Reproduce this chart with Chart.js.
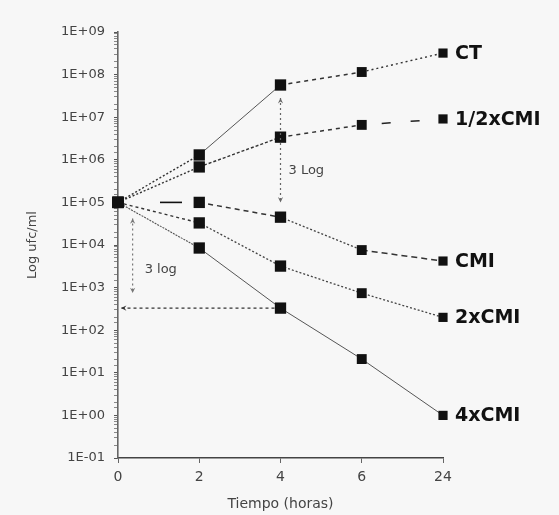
<!DOCTYPE html>
<html>
<head>
<meta charset="utf-8">
<script src="https://cdn.jsdelivr.net/npm/chart.js@4.4.0/dist/chart.umd.min.js"></script>
<style>
  html, body { margin: 0; padding: 0; background: #f7f7f7; }
  canvas { display: block; }
</style>
</head>
<body>
<canvas id="killChart" width="559" height="515"></canvas>
<script>
// Tiempos de muestreo (horas)
const categories = ['0', '2', '4', '6', '24'];
const seriesNames = ['CT', '1/2xCMI', 'CMI', '2xCMI', '4xCMI'];

// ufc/ml
const ct      = [1e5, 1.3e6, 5.7e7, 1.15e8, 3.2e8];
const halfCmi = [1e5, 6.8e5, 3.4e6, 6.6e6, 9.1e6];
const cmi     = [1e5, 1e5, 4.5e4, 7.6e3, 4.2e3];
const twoCmi  = [1e5, 3.3e4, 3.2e3, 7.4e2, 2.0e2];
const fourCmi = [1e5, 8.5e3, 3.3e2, 21, 1.0];

const yTickLabels = ['1E-01', '1E+00', '1E+01', '1E+02', '1E+03',
                     '1E+04', '1E+05', '1E+06', '1E+07', '1E+08', '1E+09'];

// estilo de cada tramo: [dash, offset, grosor, color]
const DOT = [[2, 2], 0, 1.4, '#333'];
const SOLID = [[], 0, 1, '#555'];
const segStyles = [
  [DOT, SOLID, [[4, 4], 0, 1.5, '#333'], [[2, 3], 0, 1.4, '#333']],
  [DOT, [[3, 2], 0, 1.4, '#333'], [[4, 4], 0, 1.5, '#333'], [[9, 20], 9, 1.5, '#222']],
  [[[22, 200], 180, 1.6, '#111'], [[5, 4], 0, 1.5, '#333'], [[2, 2], 0, 1.3, '#444'], [[6, 4], 0, 1.5, '#333']],
  [[[3, 3], 0, 1.4, '#333'], [[2, 2], 0, 1.3, '#444'], [[2, 2], 0, 1.3, '#444'], [[2, 2], 0, 1.3, '#444']],
  [[[2, 1], 0, 1.1, '#555'], SOLID, SOLID, SOLID]
];

function makeDataset(name, values, idx) {
  const st = segStyles[idx];
  return {
    label: name,
    data: values,
    borderColor: '#333',
    borderWidth: 1.4,
    pointStyle: 'rect',
    pointRadius: [8, 8, 8, 7, 6.5],
    pointBackgroundColor: '#111',
    pointBorderColor: '#111',
    pointBorderWidth: 0,
    tension: 0,
    segment: {
      borderDash: c => st[c.p0DataIndex][0],
      borderDashOffset: c => st[c.p0DataIndex][1],
      borderWidth: c => st[c.p0DataIndex][2],
      borderColor: c => st[c.p0DataIndex][3]
    }
  };
}

// flecha punteada con puntas pequeñas
function dottedArrow(ctx, x1, y1, x2, y2, dash, color) {
  ctx.save();
  ctx.strokeStyle = color;
  ctx.fillStyle = color;
  ctx.lineWidth = 1.2;
  ctx.setLineDash(dash);
  ctx.beginPath();
  ctx.moveTo(x1, y1);
  ctx.lineTo(x2, y2);
  ctx.stroke();
  ctx.setLineDash([]);
  return function head(px, py, ang) {
    ctx.beginPath();
    ctx.moveTo(px, py);
    ctx.lineTo(px - 6 * Math.cos(ang - 0.45), py - 6 * Math.sin(ang - 0.45));
    ctx.lineTo(px - 3.5 * Math.cos(ang), py - 3.5 * Math.sin(ang));
    ctx.lineTo(px - 6 * Math.cos(ang + 0.45), py - 6 * Math.sin(ang + 0.45));
    ctx.closePath();
    ctx.fill();
  };
}

const annotations = {
  id: 'annotations',
  afterDatasetsDraw(chart) {
    const {ctx} = chart;
    const xs = chart.scales.x, ys = chart.scales.y;

    // nombres al final de cada serie
    ctx.save();
    ctx.font = 'bold 19px "DejaVu Sans"';
    ctx.fillStyle = '#111';
    ctx.textBaseline = 'middle';
    chart.data.datasets.forEach((ds, i) => {
      const pts = chart.getDatasetMeta(i).data;
      const last = pts[pts.length - 1];
      ctx.fillText(ds.label, last.x + 12, last.y + 1);
    });
    ctx.restore();

    ctx.save();
    ctx.font = '13px "DejaVu Sans"';
    ctx.fillStyle = '#444';
    ctx.textBaseline = 'middle';

    // 3 Log a las 4 horas (CT frente al inóculo)
    let ax = xs.getPixelForValue(2);
    let top = ys.getPixelForValue(ct[2]) + 13;
    let bot = ys.getPixelForValue(ct[0]);
    let h = dottedArrow(ctx, ax, top, ax, bot, [2, 3], '#666');
    h(ax, top, -Math.PI / 2);
    h(ax, bot, Math.PI / 2);
    ctx.restore();
    ctx.fillText('3 Log', ax + 8, top + 0.7 * (bot - top));

    // caída de 3 log frente al inóculo
    const lx = xs.getPixelForValue(0.18);
    const hy = ys.getPixelForValue(fourCmi[2]);
    top = ys.getPixelForValue(fourCmi[0]) + 16;
    bot = hy - 15;
    h = dottedArrow(ctx, lx, top, lx, bot, [2, 3], '#777');
    h(lx, top, -Math.PI / 2);
    h(lx, bot, Math.PI / 2);
    ctx.restore();
    ctx.fillText('3 log', lx + 12, top + 0.69 * (bot - top));

    // línea horizontal hasta el eje
    const x0 = xs.getPixelForValue(0) + 3;
    const x4 = xs.getPixelForValue(2) - 6;
    h = dottedArrow(ctx, x4, hy, x0, hy, [3, 3], '#333');
    h(x0, hy, Math.PI);
    ctx.restore();
    ctx.restore();
  }
};

const isPow10 = v => {
  const e = Math.log10(v);
  return Math.abs(e - Math.round(e)) < 1e-9;
};

new Chart(document.getElementById('killChart').getContext('2d'), {
  type: 'line',
  data: {
    labels: categories,
    datasets: [
      makeDataset(seriesNames[0], ct, 0),
      makeDataset(seriesNames[1], halfCmi, 1),
      makeDataset(seriesNames[2], cmi, 2),
      makeDataset(seriesNames[3], twoCmi, 3),
      makeDataset(seriesNames[4], fourCmi, 4)
    ]
  },
  options: {
    responsive: false,
    animation: false,
    layout: { padding: { top: 32, right: 116, left: 0, bottom: 0 } },
    plugins: { legend: { display: false }, tooltip: { enabled: false } },
    scales: {
      x: {
        offset: false,
        grid: { drawOnChartArea: false, drawTicks: true, tickLength: 5, color: '#666' },
        border: { color: '#444', width: 1.5 },
        ticks: { color: '#444', padding: 6, font: { family: 'DejaVu Sans', size: 14 } },
        title: {
          display: true, text: 'Tiempo (horas)', color: '#444',
          font: { family: 'DejaVu Sans', size: 14 }, padding: { top: 0, bottom: 2 }
        },
        afterFit: s => { s.height = 57; }
      },
      y: {
        type: 'logarithmic',
        min: 0.1,
        max: 1e9,
        grid: {
          drawOnChartArea: false, drawTicks: true, tickLength: 4,
          color: c => (c.tick && isPow10(c.tick.value)) ? '#555' : '#888'
        },
        border: { color: '#666', width: 1.6 },
        ticks: {
          autoSkip: false,
          color: '#444',
          padding: 9,
          font: { family: 'DejaVu Sans', size: 13 },
          callback: v => isPow10(v) ? yTickLabels[Math.round(Math.log10(v)) + 1] : ''
        },
        title: {
          display: true, text: 'Log ufc/ml', color: '#444',
          font: { family: 'DejaVu Sans', size: 13 }, padding: { top: 25, bottom: 0 }
        },
        afterFit: s => { s.width = 118; }
      }
    }
  },
  plugins: [annotations]
});
</script>
</body>
</html>
